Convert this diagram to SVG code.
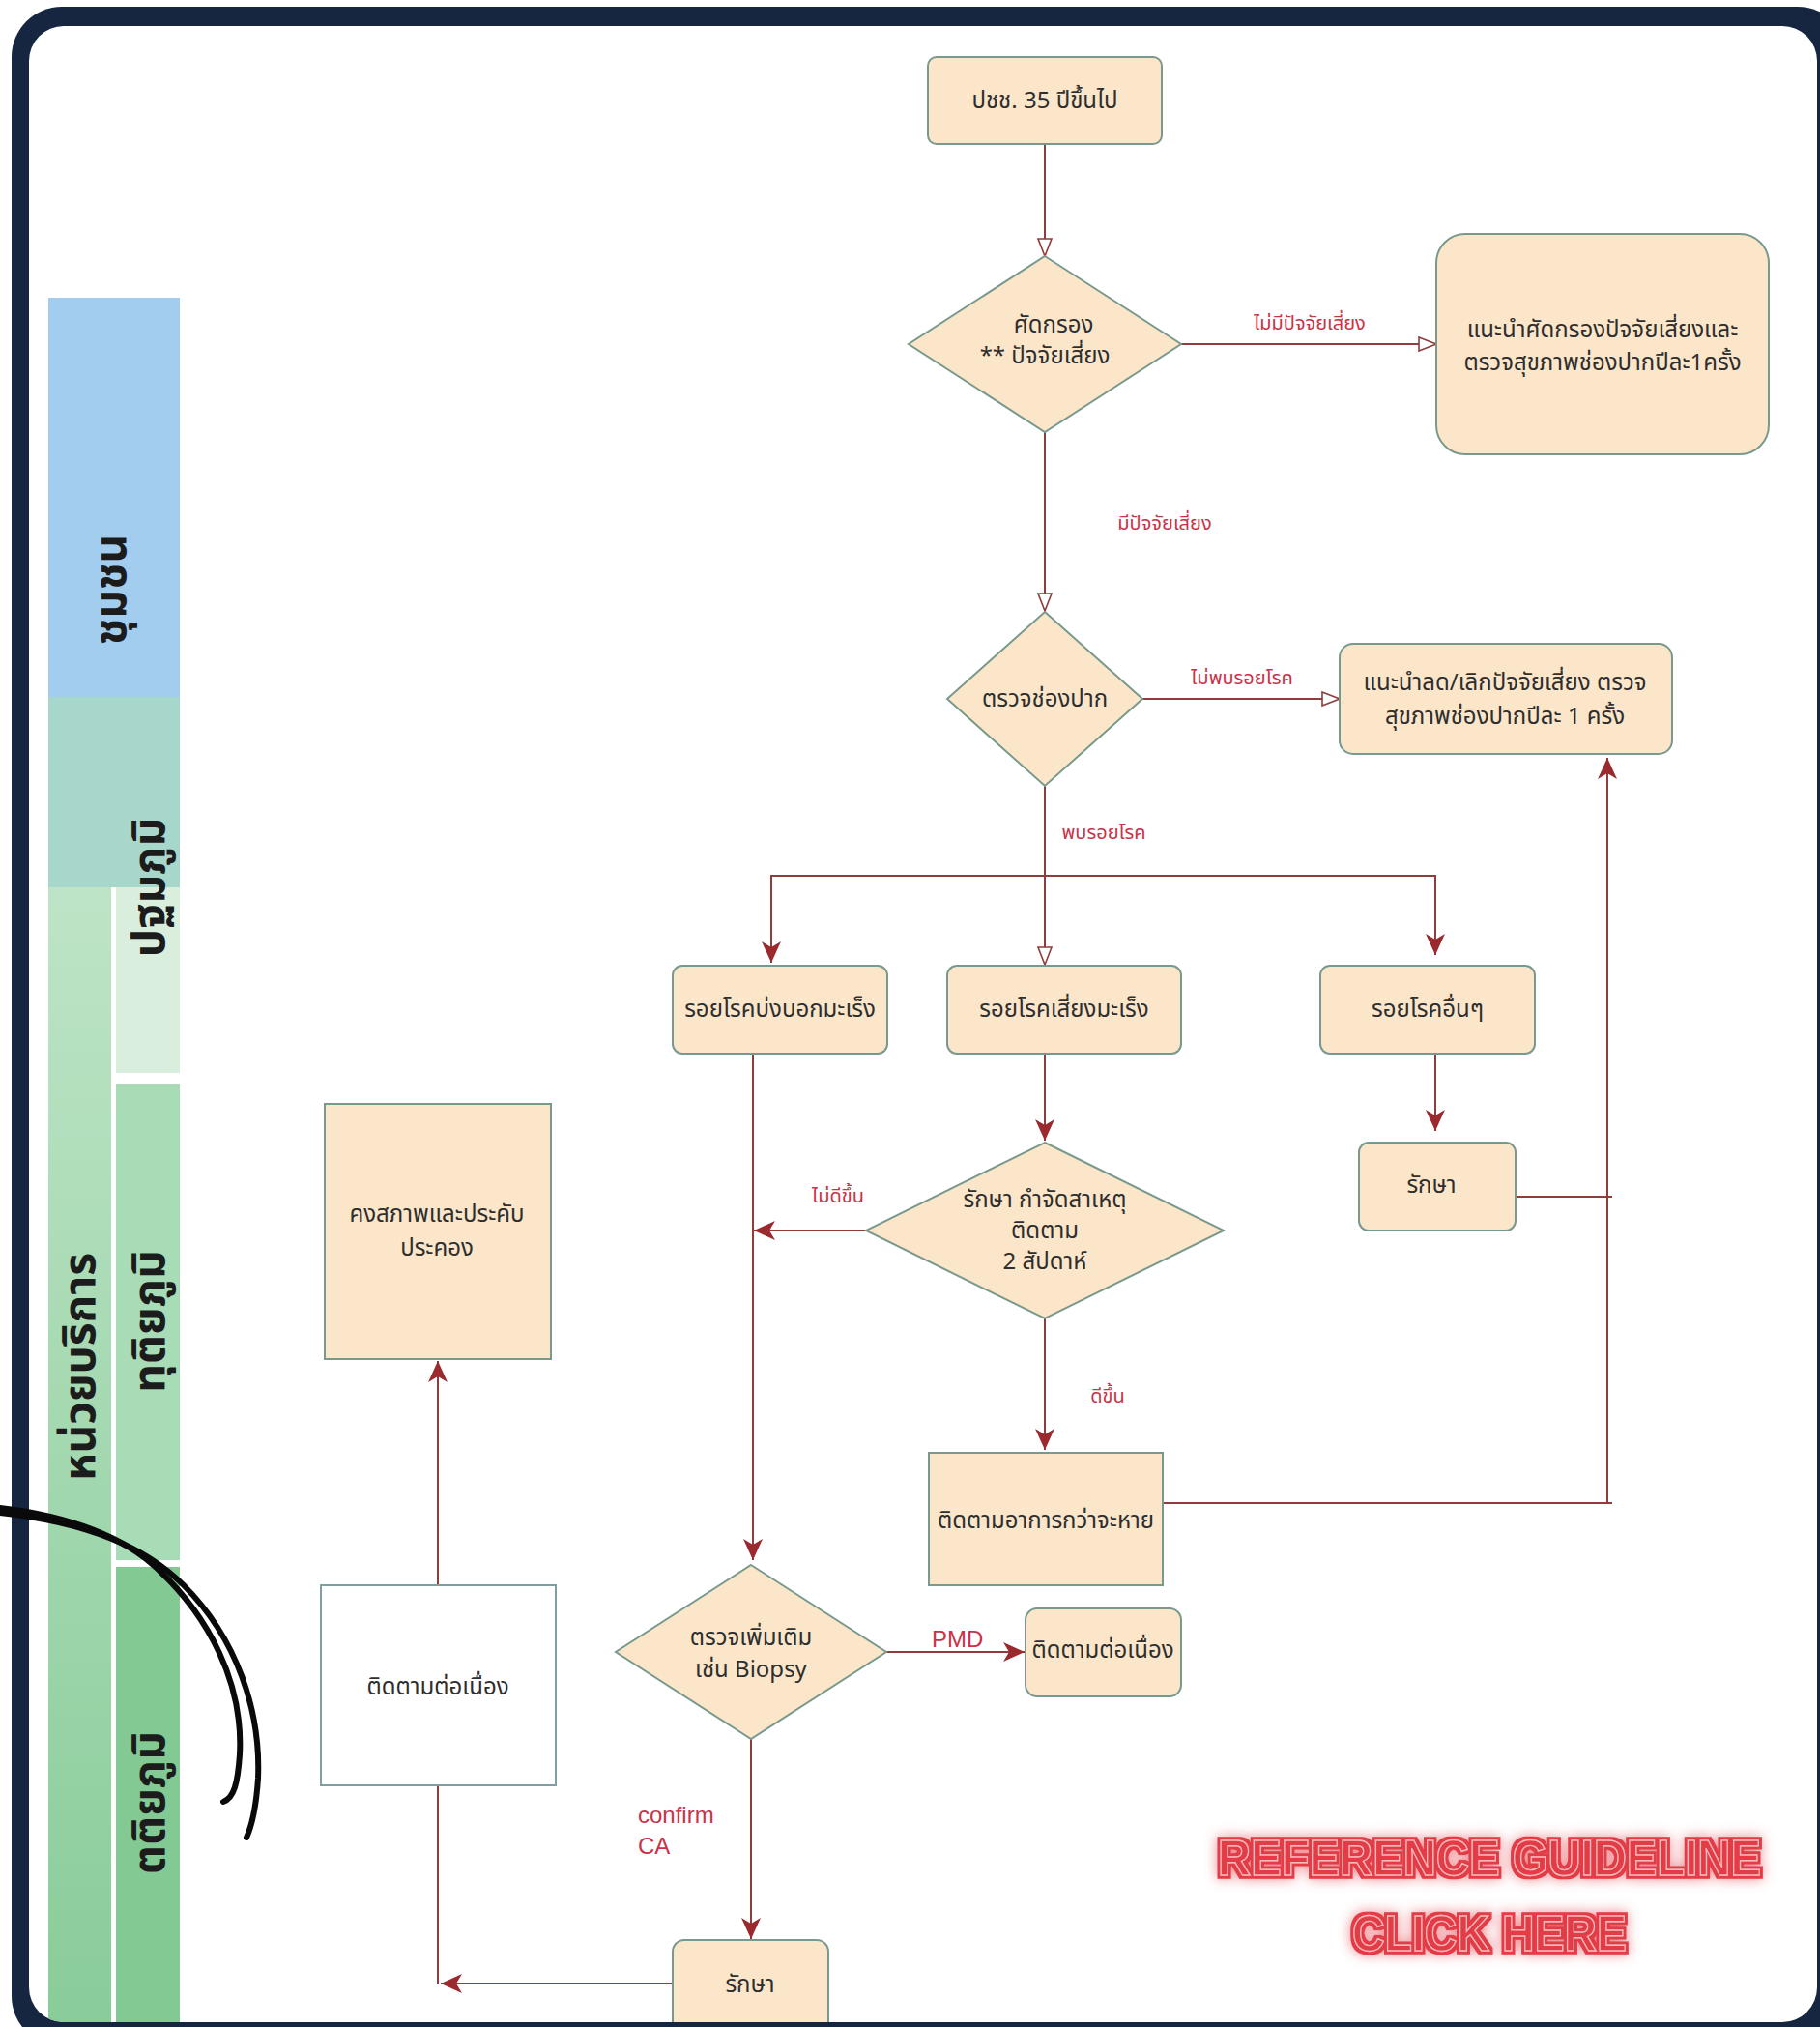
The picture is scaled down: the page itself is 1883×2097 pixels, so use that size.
<svg xmlns="http://www.w3.org/2000/svg" width="1883" height="2097" viewBox="0 0 1883 2097">
<style>
.node{fill:#fce6ca;stroke:#79998d;stroke-width:2}
.white{fill:#ffffff;stroke:#7f9ea0;stroke-width:2}
.t{font-family:"Noto Sans Thai","Noto Sans","DejaVu Sans",sans-serif;font-size:24px;fill:#2e2e2e;text-anchor:middle}
.lbl{font-family:"Noto Sans Thai","Noto Sans","DejaVu Sans",sans-serif;font-size:20px;fill:#c8334a;text-anchor:middle}
.en{font-family:"Liberation Sans",Arial,sans-serif;font-size:24px;fill:#c8334a}
.lane{font-family:"Noto Sans Thai","Noto Sans","DejaVu Sans",sans-serif;font-size:46px;font-weight:bold;fill:#1c1c1c;text-anchor:middle}
.c{fill:none;stroke:#8e3c3c;stroke-width:2}
.big{font-family:"Liberation Sans",Arial,sans-serif;font-weight:bold;font-size:52px;text-anchor:middle;fill:#e23c47;stroke:#ffb8bb;stroke-width:1.4}
</style>
<defs>
<marker id="open" viewBox="0 0 20 16" refX="19" refY="8" markerWidth="20" markerHeight="16" orient="auto" markerUnits="userSpaceOnUse">
<path d="M1,1 L19,8 L1,15 Z" fill="#ffffff" stroke="#8e3c3c" stroke-width="1.6"/>
</marker>
<marker id="fill" viewBox="0 0 22 22" refX="22" refY="11" markerWidth="22" markerHeight="22" orient="auto" markerUnits="userSpaceOnUse">
<path d="M0,1 L22,11 L0,21 L6,11 Z" fill="#9a2a2e"/>
</marker>
<linearGradient id="outerG" x1="0" y1="0" x2="0" y2="1">
<stop offset="0" stop-color="#bde4c6"/>
<stop offset="1" stop-color="#89cc99"/>
</linearGradient>
<filter id="neon" filterUnits="userSpaceOnUse" x="1180" y="1840" width="700" height="250">
<feMorphology in="SourceAlpha" operator="dilate" radius="3" result="fat"/>
<feFlood flood-color="#e23c47"/>
<feComposite in2="fat" operator="in" result="ring"/>
<feGaussianBlur in="ring" stdDeviation="7" result="blur"/>
<feComponentTransfer in="blur" result="glow"><feFuncA type="linear" slope="0.6"/></feComponentTransfer>
<feMerge><feMergeNode in="glow"/><feMergeNode in="ring"/><feMergeNode in="SourceGraphic"/></feMerge>
</filter>
<clipPath id="frameClip"><rect x="30" y="27" width="1850" height="2065" rx="36"/></clipPath>
</defs>

<!-- frame -->
<rect x="12" y="7" width="1900" height="2110" rx="52" fill="#162640"/>
<rect x="30" y="27" width="1850" height="2065" rx="36" fill="#ffffff"/>

<!-- lanes -->
<g id="lanes" clip-path="url(#frameClip)">
<rect x="50" y="308" width="136" height="413" fill="#a3cdef"/>
<rect x="50" y="721" width="136" height="197" fill="#a7d7cb"/>
<rect x="50" y="918" width="65" height="1180" fill="url(#outerG)"/>
<rect x="120" y="918" width="66" height="192" fill="#d9eedd"/>
<rect x="120" y="1121" width="66" height="493" fill="#a8dcb7"/>
<rect x="120" y="1621" width="66" height="480" fill="#82c994"/>
<text class="lane" transform="translate(130,610) rotate(-90)">ชุมชน</text>
<text class="lane" transform="translate(170,918) rotate(-90)">ปฐมภูมิ</text>
<text class="lane" transform="translate(98,1414) rotate(-90)">หน่วยบริการ</text>
<text class="lane" transform="translate(170,1367) rotate(-90)">ทุติยภูมิ</text>
<text class="lane" transform="translate(170,1865) rotate(-90)">ตติยภูมิ</text>
</g>

<!-- connectors -->
<g id="connectors">
<path class="c" d="M1081,150 V265" marker-end="url(#open)"/>
<path class="c" d="M1222,356 H1486" marker-end="url(#open)"/>
<path class="c" d="M1081,447 V632" marker-end="url(#open)"/>
<path class="c" d="M1182,723 H1386" marker-end="url(#open)"/>
<path class="c" d="M1081,813 V998" marker-end="url(#open)"/>
<path class="c" d="M1081,906 H798 V996" marker-end="url(#fill)"/>
<path class="c" d="M1081,906 H1485 V988" marker-end="url(#fill)"/>
<path class="c" d="M1081,1090 V1180" marker-end="url(#fill)"/>
<path class="c" d="M1485,1090 V1170" marker-end="url(#fill)"/>
<path class="c" d="M896,1273 H780" stroke-width="3" marker-end="url(#fill)"/>
<path class="c" d="M779,1090 V1614" marker-end="url(#fill)"/>
<path class="c" d="M1081,1364 V1500" marker-end="url(#fill)"/>
<path class="c" d="M1568,1238 H1668"/>
<path class="c" d="M1204,1555 H1668"/>
<path class="c" d="M1663,1555 V784" marker-end="url(#fill)"/>
<path class="c" d="M917,1709 H1060" stroke-width="3" marker-end="url(#fill)"/>
<path class="c" d="M777,1799 V2006" marker-end="url(#fill)"/>
<path class="c" d="M697,2052 H456" stroke-width="3" marker-end="url(#fill)"/>
<path class="c" d="M453,1847 V2052"/>
<path class="c" d="M453,1640 V1408" marker-end="url(#fill)"/>
<text class="lbl" x="1355" y="341">ไม่มีปัจจัยเสี่ยง</text>
<text class="lbl" x="1205" y="548">มีปัจจัยเสี่ยง</text>
<text class="lbl" x="1285" y="708">ไม่พบรอยโรค</text>
<text class="lbl" x="1142" y="868">พบรอยโรค</text>
<text class="lbl" x="867" y="1244">ไม่ดีขึ้น</text>
<text class="lbl" x="1146" y="1451">ดีขึ้น</text>
<text class="en" x="964" y="1704">PMD</text>
<text class="en" x="660" y="1886">confirm</text>
<text class="en" x="660" y="1918">CA</text>
</g>

<!-- nodes -->
<g id="n-start"><rect class="node" x="960" y="59" width="242" height="90" rx="9"/><text class="t" x="1081" y="112">ปชช. 35 ปีขึ้นไป</text></g>
<g id="n-screen"><polygon class="node" points="1081,265 1222,356 1081,447 940,356"/><text class="t" x="1090" y="344">ศัดกรอง</text><text class="t" x="1081" y="376">** ปัจจัยเสี่ยง</text></g>
<g id="n-advise1"><rect class="node" x="1486" y="242" width="344" height="228" rx="30"/><text class="t" x="1658" y="349">แนะนำศัดกรองปัจจัยเสี่ยงและ</text><text class="t" x="1658" y="383">ตรวจสุขภาพช่องปากปีละ1ครั้ง</text></g>
<g id="n-exam"><polygon class="node" points="1081,633 1182,723 1081,813 980,723"/><text class="t" x="1081" y="731">ตรวจช่องปาก</text></g>
<g id="n-advise2"><rect class="node" x="1386" y="666" width="344" height="114" rx="14"/><text class="t" x="1557" y="714">แนะนำลด/เลิกปัจจัยเสี่ยง ตรวจ</text><text class="t" x="1557" y="749">สุขภาพช่องปากปีละ 1 ครั้ง</text></g>
<g id="n-lesion1"><rect class="node" x="696" y="999" width="222" height="91" rx="10"/><text class="t" x="807" y="1052">รอยโรคบ่งบอกมะเร็ง</text></g>
<g id="n-lesion2"><rect class="node" x="980" y="999" width="242" height="91" rx="10"/><text class="t" x="1101" y="1052">รอยโรคเสี่ยงมะเร็ง</text></g>
<g id="n-lesion3"><rect class="node" x="1366" y="999" width="222" height="91" rx="10"/><text class="t" x="1477" y="1052">รอยโรคอื่นๆ</text></g>
<g id="n-treat2w"><polygon class="node" points="1081,1182 1266,1273 1081,1364 896,1273"/><text class="t" x="1081" y="1249">รักษา กำจัดสาเหตุ</text><text class="t" x="1081" y="1281">ติดตาม</text><text class="t" x="1081" y="1313">2 สัปดาห์</text></g>
<g id="n-treat3"><rect class="node" x="1406" y="1182" width="162" height="91" rx="10"/><text class="t" x="1481" y="1234">รักษา</text></g>
<g id="n-stable"><rect class="node" x="336" y="1142" width="234" height="264"/><text class="t" x="452" y="1264">คงสภาพและประคับ</text><text class="t" x="452" y="1299">ประคอง</text></g>
<g id="n-follow"><rect class="node" x="961" y="1503" width="242" height="137"/><text class="t" x="1082" y="1581">ติดตามอาการกว่าจะหาย</text></g>
<g id="n-followW"><rect class="white" x="332" y="1640" width="243" height="207"/><text class="t" x="453" y="1753">ติดตามต่อเนื่อง</text></g>
<g id="n-biopsy"><polygon class="node" points="777,1619 917,1709 777,1799 637,1709"/><text class="t" x="777" y="1702">ตรวจเพิ่มเติม</text><text class="t" x="777" y="1735">เช่น Biopsy</text></g>
<g id="n-follow2"><rect class="node" x="1061" y="1664" width="161" height="91" rx="12"/><text class="t" x="1141" y="1715">ติดตามต่อเนื่อง</text></g>
<g id="n-treatCA"><rect class="node" x="696" y="2007" width="161" height="100" rx="12" clip-path="url(#frameClip)"/><text class="t" x="776" y="2061">รักษา</text></g>

<!-- decorative curves -->
<g id="curves" fill="none" stroke="#0a0a0a" stroke-width="6" stroke-linecap="round">
<path d="M0,1560 C70,1568 130,1590 165,1625 C215,1672 252,1740 248,1815 C246,1845 242,1860 231,1864"/>
<path d="M0,1565 C90,1575 150,1600 190,1640 C245,1695 270,1770 267,1840 C265,1870 260,1890 255,1901"/>
</g>

<!-- reference text -->
<g id="reference" filter="url(#neon)">
<text class="big" x="1541" y="1940" textLength="562" lengthAdjust="spacingAndGlyphs">REFERENCE GUIDELINE</text>
<text class="big" x="1541" y="2018" textLength="284" lengthAdjust="spacingAndGlyphs">CLICK HERE</text>
</g>
</svg>
